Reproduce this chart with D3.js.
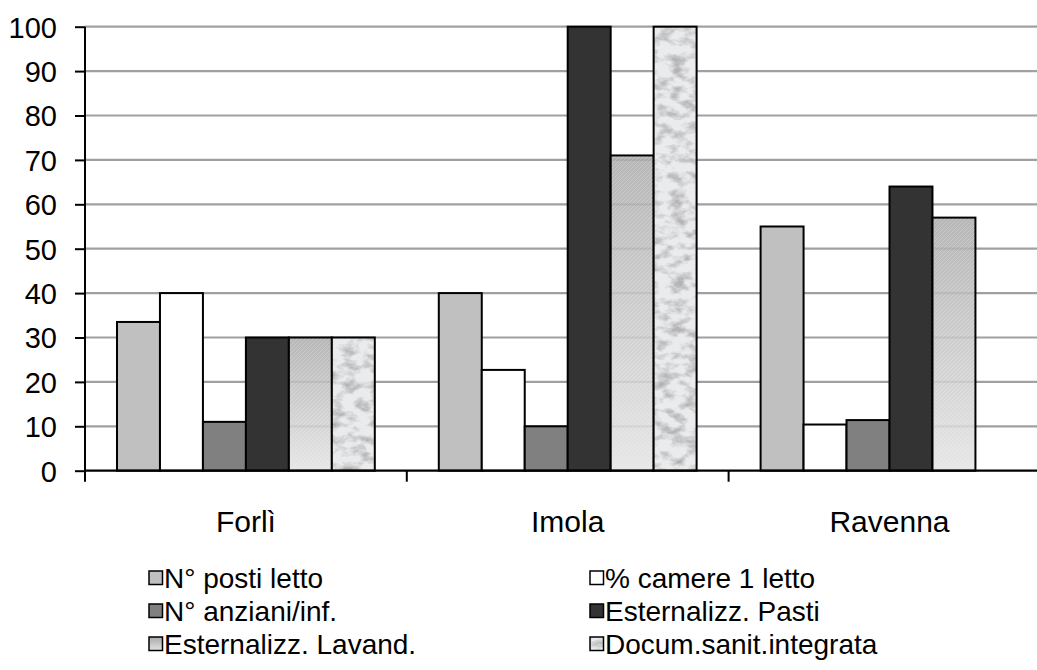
<!DOCTYPE html>
<html><head><meta charset="utf-8">
<script src="https://cdn.jsdelivr.net/npm/d3@7"></script>
<style>body{margin:0;background:#fff}svg{display:block}text{font-family:"Liberation Sans",Arial,sans-serif;fill:#000}</style>
</head><body><svg id="c" width="1037" height="670"></svg>
<script>
const categories = ["Forlì", "Imola", "Ravenna"];
const seriesNames = ["N° posti letto", "% camere 1 letto", "N° anziani/inf.", "Esternalizz. Pasti", "Esternalizz. Lavand.", "Docum.sanit.integrata"];
const postiLetto   = [33.5, 40, 55];
const camere1      = [40, 22.7, 10.4];
const anziani      = [11, 10, 11.4];
const pasti        = [30, 100, 64];
const lavand       = [30, 71, 57];
const documSanit   = [30, 100, null];
const yTicks = [0,10,20,30,40,50,60,70,80,90,100];

const seriesValues = [postiLetto, camere1, anziani, pasti, lavand, documSanit];
const fills = ["#c0c0c0", "#ffffff", "#808080", "#333333", "url(#lavGrad)", "url(#docPat)"];

const svg = d3.select("#c");
const defs = svg.append("defs");
const lg = defs.append("linearGradient").attr("id","lavGrad").attr("x1",0).attr("y1",0).attr("x2",0).attr("y2",1);
lg.append("stop").attr("offset","0%").attr("stop-color","#aaaaaa");
lg.append("stop").attr("offset","100%").attr("stop-color","#e2e2e2");
const tp = defs.append("pattern").attr("id","lavTex").attr("width",4).attr("height",4).attr("patternUnits","userSpaceOnUse");
tp.append("path").attr("d","M0,4 L4,0").attr("stroke","#ffffff").attr("stroke-width",0.8).attr("opacity",0.25);

const dp = defs.append("pattern").attr("id","docPat").attr("width",1037).attr("height",670).attr("patternUnits","userSpaceOnUse");
dp.append("rect").attr("width",1037).attr("height",670).attr("fill","#eaebed");
const f2 = defs.append("filter").attr("id","marb2").attr("x",0).attr("y",0).attr("width",1).attr("height",1);
f2.append("feTurbulence").attr("type","fractalNoise").attr("baseFrequency","0.07 0.11").attr("numOctaves",4).attr("seed",7).attr("result","n");
f2.append("feColorMatrix").attr("in","n").attr("type","matrix")
 .attr("values","0 0 0 0 0.45  0 0 0 0 0.45  0 0 0 0 0.46  2.6 0 0 0 -1.1");
dp.append("rect").attr("width",1037).attr("height",670).attr("filter","url(#marb2)");

const x0 = 85, groupW = 321.8;
const x = d3.scaleBand().domain(categories).range([x0, x0 + groupW*categories.length]);
const xs = d3.scaleBand().domain(seriesNames).range([32, groupW - 32]);
const y = d3.scaleLinear().domain([0,100]).range([470.7, 26.7]);

svg.append("g").selectAll("line").data(yTicks.filter(d=>d>0)).enter().append("line")
  .attr("x1",x0).attr("x2",1037).attr("y1",d=>y(d)).attr("y2",d=>y(d))
  .attr("stroke","#a0a0a0").attr("stroke-width",2.2);

const bars = [];
categories.forEach((c,ci)=>seriesNames.forEach((s,si)=>{
  const v = seriesValues[si][ci];
  if (v != null) bars.push({c,s,si,v});
}));
const bg = svg.append("g");
bg.selectAll("rect.bar").data(bars).enter().append("rect").attr("class","bar")
  .attr("x",d=>x(d.c)+xs(d.s)).attr("width",xs.bandwidth())
  .attr("y",d=>y(d.v)).attr("height",d=>y(0)-y(d.v))
  .attr("fill",d=>fills[d.si]).attr("fill-opacity",d=>d.si===4?0.85:1)
  .attr("stroke","#000").attr("stroke-width",2);
bg.selectAll("rect.tex").data(bars.filter(d=>d.si===4)).enter().append("rect").attr("class","tex")
  .attr("x",d=>x(d.c)+xs(d.s)+1).attr("width",xs.bandwidth()-2)
  .attr("y",d=>y(d.v)+1).attr("height",d=>y(0)-y(d.v)-2)
  .attr("fill","url(#lavTex)");

const yAxis = d3.axisLeft(y).tickValues(yTicks).tickSize(10).tickPadding(18);
const ya = svg.append("g").attr("transform",`translate(${x0},0)`).call(yAxis);
ya.attr("font-size",null).attr("font-family",null);
ya.select(".domain").attr("stroke","#000").attr("stroke-width",2).attr("d",`M0,${y(100)}V${y(0)}`);
ya.selectAll(".tick line").attr("stroke","#000").attr("stroke-width",2);
ya.selectAll(".tick text").attr("font-size",29).attr("dy","0.36em");

const xa = svg.append("g").attr("transform",`translate(0,${y(0)})`);
xa.append("line").attr("x1",x0).attr("x2",1037).attr("stroke","#000").attr("stroke-width",2.2);
xa.selectAll("line.t").data(d3.range(categories.length+1)).enter().append("line").attr("class","t")
  .attr("x1",d=>x0+d*groupW).attr("x2",d=>x0+d*groupW).attr("y1",0).attr("y2",11)
  .attr("stroke","#000").attr("stroke-width",2);
xa.selectAll("text").data(categories).enter().append("text")
  .attr("x",d=>x(d)+x.bandwidth()/2).attr("y",61).attr("text-anchor","middle")
  .attr("font-size",30).text(d=>d);

const lx = [149, 590], ly = [578, 611, 644];
const lgG = svg.append("g");
seriesNames.forEach((s,i)=>{
  const gx = lx[i%2], gy = ly[Math.floor(i/2)];
  const g = lgG.append("g").attr("transform",`translate(${gx},${gy})`);
  g.append("rect").attr("x",0).attr("y",-7).attr("width",13.5).attr("height",13.5)
   .attr("fill",fills[i]).attr("stroke","#000").attr("stroke-width",1.5);
  g.append("text").attr("x",15).attr("y",10).attr("font-size",28).text(s);
});
</script></body></html>
